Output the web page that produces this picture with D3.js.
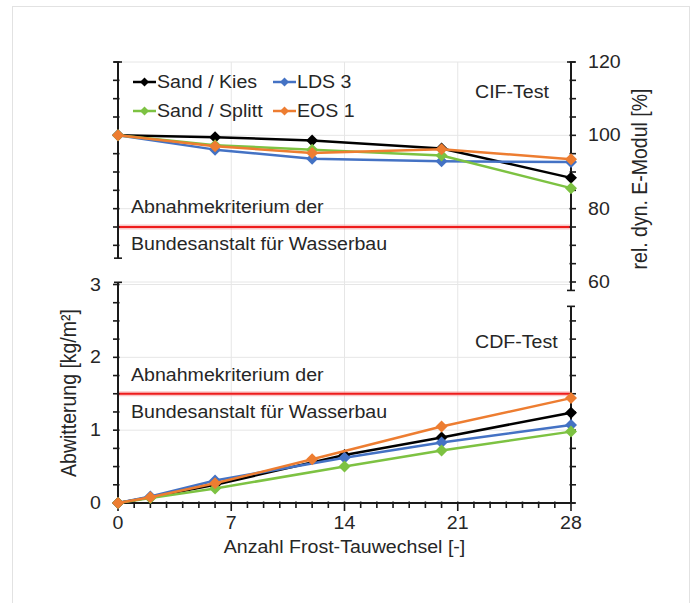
<!DOCTYPE html>
<html>
<head>
<meta charset="utf-8">
<script src="https://d3js.org/d3.v7.min.js"></script>
<style>
  html, body { margin: 0; padding: 0; background: #fff; }
  text { font-family: "Liberation Sans", Arial, sans-serif; fill: #262626; }
</style>
</head>
<body>
<div id="chart"></div>
<script>
// data
const series = ["Sand / Kies", "LDS 3", "Sand / Splitt", "EOS 1"]
const colors = ["#000000", "#4472C4", "#7DC242", "#ED7D31"]

// CIF-Test: rel. dyn. E-Modul [%]
const cifX = [0, 6, 12, 20, 28]
const cifKies = [100, 99.5, 98.6, 96.4, 88.4]
const cifLDS = [100, 96.1, 93.6, 92.9, 92.7]
const cifSplitt = [100, 97.3, 96.1, 94.5, 85.6]
const cifEOS = [100, 97.0, 95.2, 96.2, 93.5]
const cifLimit = 75

// CDF-Test: Abwitterung [kg/m2]
const cdfX = [0, 2, 6, 14, 20, 28]
const cdfXEOS = [0, 2, 6, 12, 20, 28]
const cdfKies = [0, 0.08, 0.25, 0.66, 0.90, 1.24]
const cdfLDS = [0, 0.09, 0.31, 0.62, 0.83, 1.07]
const cdfSplitt = [0, 0.07, 0.20, 0.50, 0.72, 0.98]
const cdfEOS = [0, 0.08, 0.27, 0.60, 1.05, 1.44]
const cdfLimit = 1.5

const xTicks = [0, 7, 14, 21, 28]
const cifTicks = [60, 80, 100, 120]
const cdfTicks = [0, 1, 2, 3]

const width = 696, height = 603
const stretch = 1.12   // glyphs in the picture are a bit wide

const svg = d3.select('#chart').append('svg')
  .attr('width', width).attr('height', height)

// frame
svg.append('rect')
  .attr('x', 12.5).attr('y', 6.5).attr('width', 677).attr('height', 640)
  .attr('fill', 'none').attr('stroke', '#e2e2e2')

const x = d3.scaleLinear().domain([0, 28]).range([118, 571])
const yTop = d3.scaleLinear().domain([60, 120]).range([282, 62])
const yBot = d3.scaleLinear().domain([0, 3]).range([503, 284.5])

function label(g, px, py, str, anchor, size) {
  return g.append('text')
    .attr('transform', `translate(${px},${py}) scale(${stretch},1)`)
    .attr('text-anchor', anchor || 'start')
    .attr('font-size', size || 17.5)
    .text(str)
}

// grid
const grid = svg.append('g').attr('stroke', '#e6e6e6').attr('stroke-width', 1)
grid.selectAll('.vg').data(xTicks.slice(1, -1)).enter().append('line')
  .attr('x1', d => x(d)).attr('x2', d => x(d))
  .attr('y1', yTop(120)).attr('y2', yBot(0))
grid.selectAll('.hg1').data(cifTicks).enter().append('line')
  .attr('x1', x(0)).attr('x2', x(28))
  .attr('y1', d => yTop(d)).attr('y2', d => yTop(d))
grid.selectAll('.hg2').data(cdfTicks.slice(1)).enter().append('line')
  .attr('x1', x(0)).attr('x2', x(28))
  .attr('y1', d => yBot(d)).attr('y2', d => yBot(d))

// limit lines
function limit(yv) {
  svg.append('line').attr('x1', x(0)).attr('x2', x(28))
    .attr('y1', yv).attr('y2', yv)
    .attr('stroke', '#f6a5a5').attr('stroke-width', 5).attr('opacity', 0.6)
  svg.append('line').attr('x1', x(0)).attr('x2', x(28))
    .attr('y1', yv).attr('y2', yv)
    .attr('stroke', '#ee1c1c').attr('stroke-width', 2.2)
}
limit(yTop(cifLimit))
limit(yBot(cdfLimit))

// axes drawn by hand with ticks crossing the line like the original
const axisColor = '#1a1a1a'
function vAxis(px, scale, from, to, step, side) {
  const g = svg.append('g').attr('stroke', axisColor).attr('stroke-width', 2)
  g.append('line').attr('x1', px).attr('x2', px)
    .attr('y1', scale(from)).attr('y2', scale(to))
  const ticks = d3.range(Math.ceil(to / step) * step, from + 1e-9, step)
  g.selectAll('.t').data(ticks).enter().append('line')
    .attr('x1', px - (side < 0 ? 5 : 1.5)).attr('x2', px + (side > 0 ? 5 : 1.5))
    .attr('y1', d => scale(d)).attr('y2', d => scale(d))
    .attr('stroke-width', 1.6)
  // end caps
  g.selectAll('.c').data([from, to]).enter().append('line')
    .attr('x1', px - 4).attr('x2', px + 4)
    .attr('y1', d => scale(d)).attr('y2', d => scale(d))
    .attr('stroke-width', 1.6)
}
vAxis(x(0), yTop, 120, 66.5, 5, -1)
vAxis(x(28), yTop, 120, 57.7, 5, 1)
vAxis(x(0), yBot, 3.03, 0, 0.25, -1)
vAxis(x(28), yBot, 2.7, 0, 0.25, 1)

const xa = svg.append('g').attr('stroke', axisColor)
xa.append('line').attr('x1', x(0)).attr('x2', x(28))
  .attr('y1', yBot(0)).attr('y2', yBot(0)).attr('stroke-width', 2)
xa.selectAll('.t').data(d3.range(0, 29, 1)).enter().append('line')
  .attr('x1', d => x(d)).attr('x2', d => x(d))
  .attr('y1', yBot(0) - 1.5).attr('y2', d => yBot(0) + (d % 7 === 0 ? 8 : 5))
  .attr('stroke-width', 1.6)

// tick labels
const lab = svg.append('g')
cifTicks.forEach(d => label(lab, x(28) + 17, yTop(d) + 6, d, 'start'))
cdfTicks.forEach(d => label(lab, x(0) - 17, yBot(d) + 6, d, 'end'))
xTicks.forEach(d => label(lab, x(d), yBot(0) + 26, d, 'middle'))

// titles
label(svg, x(14), 553, 'Anzahl Frost-Tauwechsel [-]', 'middle')
svg.append('text')
  .attr('transform', `translate(76,393) rotate(-90) scale(1,${stretch})`)
  .attr('text-anchor', 'middle').attr('font-size', 19.5)
  .text('Abwitterung [kg/m²]')
svg.append('text')
  .attr('transform', `translate(647,179) rotate(-90) scale(1,${stretch})`)
  .attr('text-anchor', 'middle').attr('font-size', 19.5)
  .text('rel. dyn. E-Modul [%]')

label(svg, 475, 98, 'CIF-Test')
label(svg, 475, 348, 'CDF-Test')
label(svg, 131, 213, 'Abnahmekriterium der')
label(svg, 131, 250, 'Bundesanstalt für Wasserbau')
label(svg, 131, 381, 'Abnahmekriterium der')
label(svg, 131, 418, 'Bundesanstalt für Wasserbau')

// series
const diamond = r => `M0,${-r}L${r},0L0,${r}L${-r},0Z`
const cifData = [cifKies, cifLDS, cifSplitt, cifEOS]
const cdfData = [cdfKies, cdfLDS, cdfSplitt, cdfEOS]
const cdfXs = [cdfX, cdfX, cdfX, cdfXEOS]

function drawSeries(xs, ys, yScale, color) {
  const pts = xs.map((v, i) => [x(v), yScale(ys[i])])
  const g = svg.append('g')
  g.append('path')
    .attr('d', d3.line()(pts))
    .attr('fill', 'none').attr('stroke', color).attr('stroke-width', 2.5)
    .attr('stroke-linejoin', 'round')
  g.selectAll('path.m').data(pts).enter().append('path')
    .attr('class', 'm')
    .attr('d', diamond(6))
    .attr('transform', d => `translate(${d[0]},${d[1]})`)
    .attr('fill', color)
}
series.forEach((s, i) => {
  drawSeries(cifX, cifData[i], yTop, colors[i])
  drawSeries(cdfXs[i], cdfData[i], yBot, colors[i])
})

// legend
const leg = svg.append('g')
const legPos = [[133, 82], [273, 82], [133, 111], [273, 111]]
series.forEach((s, i) => {
  const [lx, ly] = legPos[i]
  leg.append('line').attr('x1', lx).attr('x2', lx + 23)
    .attr('y1', ly).attr('y2', ly)
    .attr('stroke', colors[i]).attr('stroke-width', 2.5)
  leg.append('path').attr('d', diamond(4.5))
    .attr('transform', `translate(${lx + 11.5},${ly})`)
    .attr('fill', colors[i])
  label(leg, lx + 24, ly + 6, s)
})
</script>
</body>
</html>
